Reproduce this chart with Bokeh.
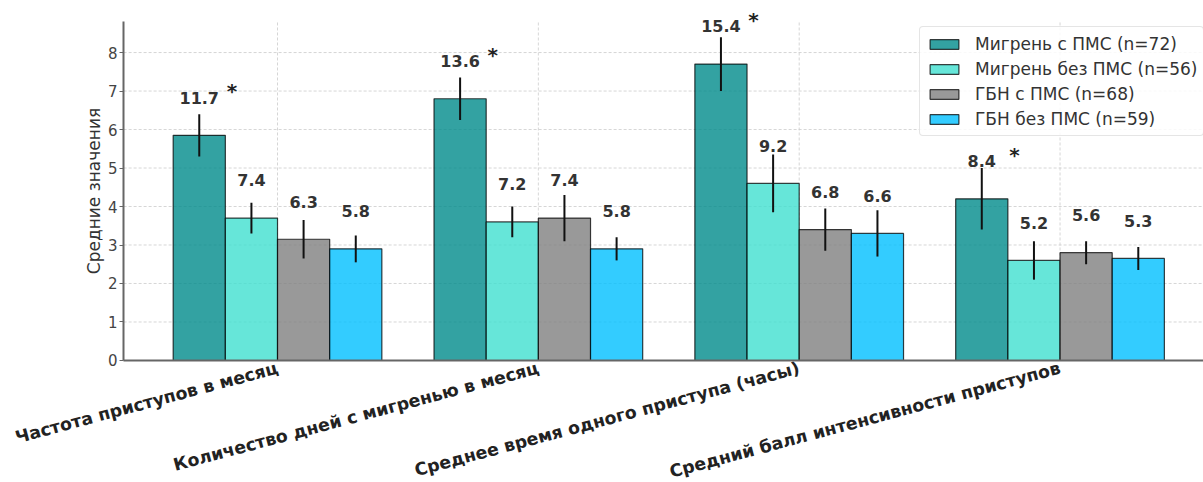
import math
from bokeh.plotting import figure
from bokeh.models import (ColumnDataSource, FixedTicker, Legend, LegendItem,
                          LinearAxis)
from bokeh.core.properties import value
from bokeh.embed import file_html
from bokeh.resources import INLINE

# Indicators compared across the four patient groups
categories = [
    "Частота приступов в месяц",
    "Количество дней с мигренью в месяц",
    "Среднее время одного приступа (часы)",
    "Средний балл интенсивности приступов",
]
groups = [
    "Мигрень с ПМС (n=72)",
    "Мигрень без ПМС (n=56)",
    "ГБН с ПМС (n=68)",
    "ГБН без ПМС (n=59)",
]

# Mean values per group (one list per group, in category order)
mig_pms = [11.7, 13.6, 15.4, 8.4]
mig_no_pms = [7.4, 7.2, 9.2, 5.2]
tth_pms = [6.3, 7.4, 6.8, 5.6]
tth_no_pms = [5.8, 5.8, 6.6, 5.3]

# Spread of each mean (same units as the means)
mig_pms_err = [1.1, 1.1, 1.4, 1.6]
mig_no_pms_err = [0.8, 0.8, 1.5, 1.0]
tth_pms_err = [1.0, 1.2, 1.1, 0.6]
tth_no_pms_err = [0.7, 0.6, 1.2, 0.6]

# Significant difference marks for the first group
significant = [True, True, True, True]

# ticks of the value axis
y_ticks = [0, 1, 2, 3, 4, 5, 6, 7, 8]

# Bars are drawn on a half scale of the stated means
SCALE = 0.5

# extent of the axes box in data units
X_LEFT, X_RIGHT = -0.59, 3.55
Y_TOP = 8.8

series = [mig_pms, mig_no_pms, tth_pms, tth_no_pms]
errors = [mig_pms_err, mig_no_pms_err, tth_pms_err, tth_no_pms_err]
colors = ["#008B8B", "#40E0D0", "#808080", "#00BFFF"]

FONT = "DejaVu Sans"
BAR_W = 0.2
AXIS_COLOR = "#666666"
GRID_COLOR = "#cccccc"

# The frame fills the canvas; both axes sit at fixed data positions inside it
p = figure(
    width=1203, height=482,
    x_range=(-1.062, X_RIGHT), y_range=(-3.17, 9.3),
    output_backend="svg", toolbar_location=None,
    x_axis_location=None, y_axis_location=None,
    min_border_left=0, min_border_right=0, min_border_top=2,
    min_border_bottom=0,
)
p.outline_line_color = None
p.background_fill_color = "white"
p.xgrid.visible = False
p.ygrid.visible = False

cat_x = list(range(len(categories)))

# dashed grid inside the axes box
p.segment(x0=[X_LEFT] * len(y_ticks), y0=y_ticks,
          x1=[X_RIGHT] * len(y_ticks), y1=y_ticks,
          line_color=GRID_COLOR, line_dash="3 2", line_alpha=0.8,
          line_width=1, level="underlay")
p.segment(x0=cat_x, y0=[0] * len(cat_x), x1=cat_x, y1=[Y_TOP] * len(cat_x),
          line_color=GRID_COLOR, line_dash="3 2", line_alpha=0.8,
          line_width=1, level="underlay")

# value axis
yaxis = LinearAxis(
    fixed_location=X_LEFT, bounds=(0, Y_TOP),
    ticker=FixedTicker(ticks=y_ticks),
    axis_label="Средние значения",
    axis_label_text_font=FONT, axis_label_text_font_size="17px",
    axis_label_text_font_style="normal", axis_label_text_color="#333333",
    axis_label_standoff=1,
    major_label_text_font=FONT, major_label_text_font_size="15px",
    major_label_text_color="#444444", major_label_standoff=2,
    major_tick_out=4, major_tick_in=0, minor_tick_line_color=None,
    axis_line_color=AXIS_COLOR, axis_line_width=2,
    major_tick_line_color=AXIS_COLOR,
)
p.add_layout(yaxis, "left")

# category axis with slanted names
xaxis = LinearAxis(
    fixed_location=0, bounds=(X_LEFT, X_RIGHT),
    ticker=FixedTicker(ticks=cat_x),
    major_label_overrides={i: c for i, c in enumerate(categories)},
    major_label_orientation=math.radians(15),
    major_label_text_font=FONT, major_label_text_font_size="17.3px",
    major_label_text_font_style="bold", major_label_text_color="#222222",
    major_label_standoff=1,
    major_tick_line_color=None, minor_tick_line_color=None,
    axis_line_color=AXIS_COLOR, axis_line_width=2,
)
p.add_layout(xaxis, "below")

legend_items = []
for k, (vals, errs, col, name) in enumerate(zip(series, errors, colors, groups)):
    xs = [i + (k - 1.5) * BAR_W for i in cat_x]
    tops = [v * SCALE for v in vals]
    src = ColumnDataSource(dict(
        x=xs, top=tops,
        lo=[(v - e) * SCALE for v, e in zip(vals, errs)],
        hi=[(v + e) * SCALE for v, e in zip(vals, errs)],
        ly=[t + 0.98 for t in tops],
        lab=[f"{v:.1f}" for v in vals],
    ))
    r = p.vbar(x="x", top="top", bottom=0, width=BAR_W, source=src,
               fill_color=col, fill_alpha=0.8,
               line_color="black", line_alpha=0.75, line_width=1.2)
    legend_items.append(LegendItem(label=name, renderers=[r]))
    p.segment(x0="x", y0="lo", x1="x", y1="hi", source=src,
              line_color="#111111", line_width=2)
    p.text(x="x", y="ly", text="lab", source=src,
           text_align="center", text_baseline="alphabetic",
           text_font=value(FONT), text_font_size="16px",
           text_font_style="bold", text_color="#333333")

# asterisks next to the first group's labels
star_x = [i - 1.5 * BAR_W + 0.125 for i, s in enumerate(significant) if s]
star_y = [mig_pms[i] * SCALE + 1.14 for i, s in enumerate(significant) if s]
p.text(x=star_x, y=star_y, text=["*"] * len(star_x),
       text_align="center", text_baseline="middle",
       text_font=value(FONT), text_font_size="20px",
       text_font_style="bold", text_color="#222222")

legend = Legend(
    items=legend_items, location=(919, 346),
    label_text_font=FONT, label_text_font_size="17px",
    label_text_color="#333333",
    glyph_width=36, glyph_height=12, label_height=21, label_standoff=13,
    spacing=4, padding=6, margin=0,
    border_line_color="#cccccc", border_line_width=1,
    background_fill_alpha=0.85,
)
legend.border_radius = 4
p.add_layout(legend)

open("out.html", "w").write(file_html(p, INLINE))
